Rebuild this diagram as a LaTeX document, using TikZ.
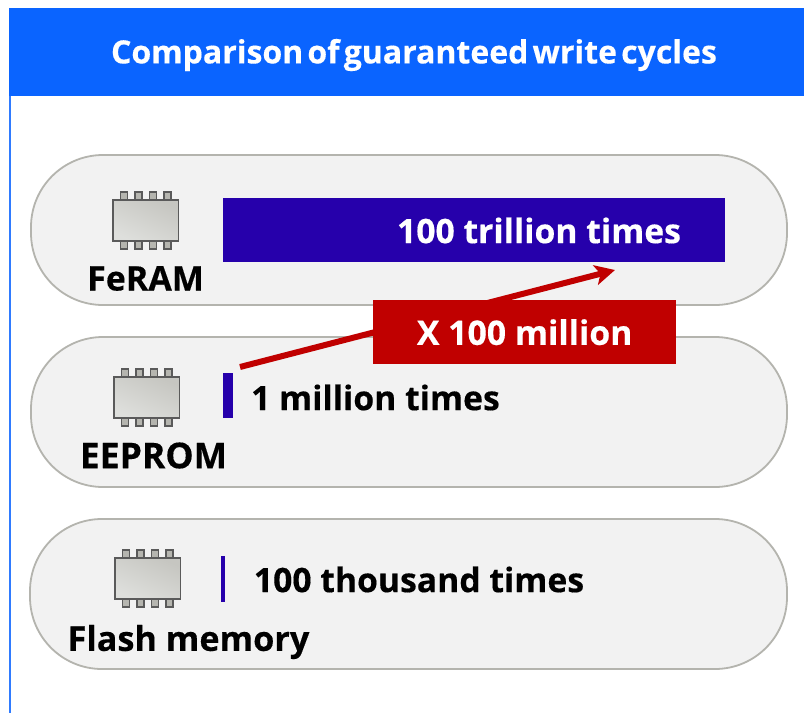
\documentclass[tikz,border=0pt]{standalone}
\usepackage{fontspec}
\setmainfont[BoldFeatures={FakeBold=0.35}]{Open Sans}
\newfontfamily\titlefont[BoldFeatures={FakeBold=0.35},WordSpace=0.5]{Open Sans}
\definecolor{headblue}{HTML}{0A64FF}
\definecolor{barblue}{HTML}{2600AB}
\definecolor{xred}{HTML}{C00000}
\definecolor{pillfill}{HTML}{F2F2F2}
\definecolor{pillline}{HTML}{B4B4AE}
\definecolor{chipline}{HTML}{5A5A5A}
\definecolor{pinfill}{HTML}{B5B5AF}
\definecolor{chipa}{HTML}{C6C6C1}
\definecolor{chipb}{HTML}{DEDFDC}
\usetikzlibrary{arrows.meta,shadings}
\tikzset{
  pill/.style={draw=pillline,line width=1.8pt,fill=pillfill,rounded corners=72pt},
  bar/.style={fill=barblue,draw=none},
  lab/.style={font=\bfseries\fontsize{33.7}{36}\selectfont,text=black,inner sep=0pt,anchor=center},
  pin/.style={draw=chipline,line width=1.2pt,fill=pinfill},
  chipbody/.style={draw=chipline,line width=1.4pt,shading=axis,left color=chipa,right color=chipb,shading angle=-25},
}
\newcommand{\chipicon}[2]{%
  \begin{scope}[shift={(#1,#2)}]
    \foreach \px in {7.5,22,36.5,51}{
      \draw[pin] (\px,-8) rectangle (\px+7,0);
      \draw[pin] (\px,41) rectangle (\px+7,49);
    }
    \draw[chipbody] (0,0) rectangle (65.5,41);
  \end{scope}}
\begin{document}
\begin{tikzpicture}[x=1pt,y=-1pt]
\useasboundingbox (0,0) rectangle (804,713);
\fill[white] (0,0) rectangle (804,713);
% frame and header
\draw[headblue!85!white,line width=2pt] (10,96) -- (10,713);
\node[fill=headblue,minimum width=795pt,minimum height=88pt,inner sep=0pt,outer sep=0pt,anchor=north west] (header) at (9,8) {};
\node[lab,text=white,font=\titlefont\bfseries\fontsize{32}{36}\selectfont] (title) at (414,55) {Comparison of guaranteed write cycles};
% pills
\draw[pill] (31,155) rectangle (787,305);
\draw[pill] (31,337) rectangle (787,487);
\draw[pill] (30,519) rectangle (787,669);
% chips
\chipicon{113}{200}
\chipicon{114}{377}
\chipicon{115}{558}
% bars
\node[bar,minimum width=502pt,minimum height=64pt,inner sep=0pt,anchor=north west] (barA) at (223,198) {};
\node[bar,minimum width=10pt,minimum height=45pt,inner sep=0pt,anchor=north west] (barB) at (223,373) {};
\node[bar,minimum width=4pt,minimum height=46pt,inner sep=0pt,anchor=north west] (barC) at (221,556) {};
% labels
\node[lab,text=white] (tA) at (539,230.5) {100 trillion times};
\node[lab] (tB) at (375.5,397.5) {1 million times};
\node[lab] (tC) at (419,579.5) {100 thousand times};
\node[lab,font=\bfseries\fontsize{34}{36}\selectfont] (nA) at (145.5,278.5) {FeRAM};
\node[lab,font=\bfseries\fontsize{35.5}{36}\selectfont] (nB) at (153.5,455.5) {EEPROM};
\node[lab,font=\bfseries\fontsize{34.2}{36}\selectfont] (nC) at (188.5,642) {Flash memory};
% arrow
\coordinate (arrowStart) at (240,367);
\coordinate (arrowEnd) at (615,270);
\draw[xred,line width=6pt,-{Stealth[length=20pt,width=20pt,inset=5pt]}] (arrowStart) -- (arrowEnd);
\node[fill=xred,text=white,font=\bfseries\fontsize{33.8}{36}\selectfont,minimum width=303pt,minimum height=64pt,inner sep=0pt,anchor=north west] (mult) at (373,300) {X 100 million};
\end{tikzpicture}
\end{document}
